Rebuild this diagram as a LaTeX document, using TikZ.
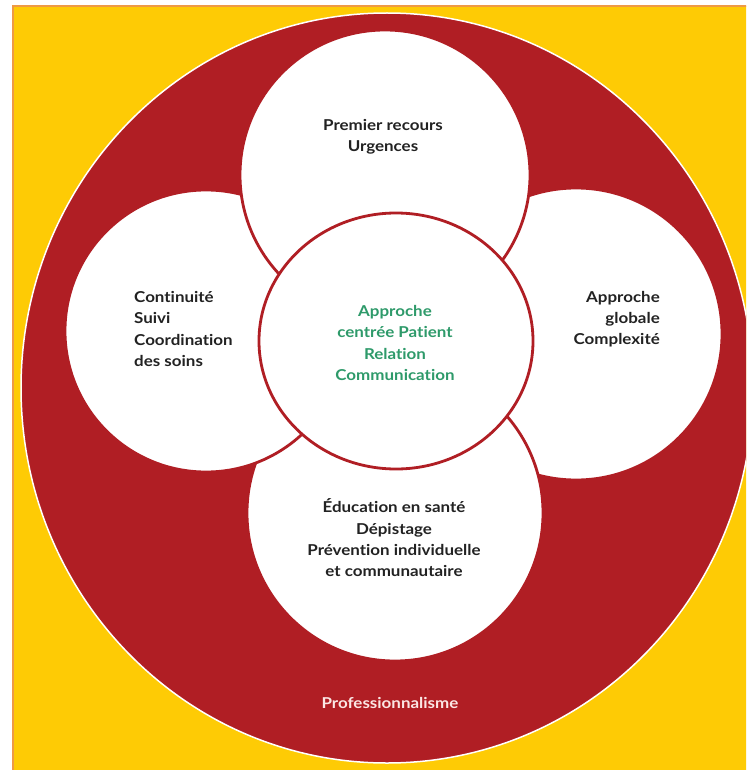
\documentclass[tikz,border=0pt]{standalone}
\usepackage{fontspec}
\setmainfont{Lato}[FakeStretch=1.13, Ligatures={NoCommon}]
\usetikzlibrary{shapes.geometric}
\definecolor{bgyellow}{HTML}{FECB05}
\definecolor{bgorange}{HTML}{EE9A45}
\definecolor{ringred}{HTML}{B01E24}
\definecolor{txtgreen}{HTML}{2E9A6A}
\definecolor{txtdark}{HTML}{222222}
\definecolor{txtpale}{HTML}{FBE6E4}
\tikzset{
  bubble/.style={circle, draw=ringred, fill=white, line width=2.8pt, inner sep=0pt},
  hub/.style={ellipse, draw=ringred, fill=white, line width=2.8pt, inner sep=0pt},
  lbl/.style={font=\bfseries\fontsize{15}{21.3}\selectfont, text=txtdark, inner sep=0pt}
}
\begin{document}
\begin{tikzpicture}[x=1pt,y=-1pt]
\useasboundingbox (0,0) rectangle (746,770);
\fill[white] (0,0) rectangle (746,770);
\begin{scope}
\clip (0,0) rectangle (746,770);
\fill[bgyellow] (13,6) rectangle (760,780);
\draw[bgorange, line width=1.5pt] (13,790) -- (13,6) -- (770,6);
\fill[ringred, draw=white, line width=1.5pt] (387,388) ellipse [x radius=366pt, y radius=375pt];
\node[bubble, minimum size=292pt] (right) at (576,334) {};
\node[bubble, minimum size=296pt] (bottom) at (395,513) {};
\node[bubble, minimum size=282pt] (left) at (206,331) {};
\node[bubble, minimum size=290pt] (top) at (385,175) {};
\node[hub, minimum width=274pt, minimum height=256pt] (hub) at (396,341) {};
\end{scope}
\node[lbl, align=center] (ttop) at (383,137) {Premier recours\\Urgences};
\node[lbl, align=left, anchor=west] (tleft) at (134,329) {Continuité\\Suivi\\Coordination\\des soins};
\node[lbl, align=right, anchor=east] (tright) at (660,319) {Approche\\globale\hspace{5pt}\\Complexité};
\node[lbl, align=center] (tbottom) at (394,538) {Éducation en santé\\Dépistage\\Prévention individuelle\\et communautaire};
\node[lbl, align=center, text=txtgreen] (thub) at (395,343) {Approche\\centrée Patient\\Relation\\Communication};
\node[lbl, text=txtpale] (tring) at (390,703) {Professionnalisme};
\end{tikzpicture}
\end{document}
